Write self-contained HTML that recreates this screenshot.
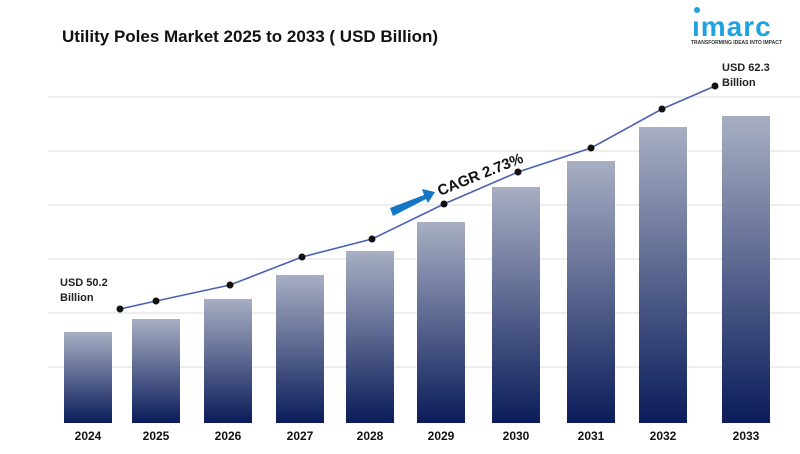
<!DOCTYPE html>
<html><head><meta charset="utf-8"><style>
body{margin:0;width:800px;height:449px;background:#fff;overflow:hidden;font-family:"Liberation Sans",Arial,sans-serif}
</style></head><body>
<svg id="c" width="800" height="449">
<defs><linearGradient id="g" x1="0" y1="0" x2="0" y2="1"><stop offset="0" stop-color="#a8afc3"/><stop offset="1" stop-color="#0a1c5a"/></linearGradient></defs>
<text x="62" y="42" font-size="17" font-weight="bold" fill="#111">Utility Poles Market 2025 to 2033 ( USD Billion)</text>
<g>
<circle cx="697" cy="10" r="3" fill="#1fa3e0"/>
<text x="692" y="36" font-size="28" font-weight="bold" fill="#1fa3e0" letter-spacing="1">ımarc</text>
<text x="691" y="44" font-size="5" font-weight="bold" fill="#333">TRANSFORMING IDEAS INTO IMPACT</text>
</g>
<g id="grid"></g><g id="bars"></g><g id="line"></g>
<text x="60" y="286" font-size="11" font-weight="bold" fill="#222">USD 50.2</text>
<text x="60" y="301" font-size="11" font-weight="bold" fill="#222">Billion</text>
<text x="722" y="71" font-size="11" font-weight="bold" fill="#222">USD 62.3</text>
<text x="722" y="86" font-size="11" font-weight="bold" fill="#222">Billion</text>
<polygon points="390,208 424,195 422,189 435,192 428,203 426,199 393,216" fill="#1476c6"/>
<text x="0" y="0" font-size="15" font-weight="bold" fill="#111" transform="translate(440,196) rotate(-22)">CAGR 2.73%</text>
</svg>
<script>
const years=["2024","2025","2026","2027","2028","2029","2030","2031","2032","2033"];
const barValues=[91,104,124,148,172,201,236,262,296,307];
const lineValues=[114,122,138,166,184,219,251,275,314,337];
const gridTicks=[1,2,3,4,5,6];
const NS="http://www.w3.org/2000/svg";
const barX=[64,132,204,276,346,417,492,567,639,722];
const base=423, bw=48;
const yBar=v=>base-v, yLine=v=>base-v;
const ptX=[120,156,230,302,372,444,518,591,662,715];
function mk(t,a,p){const e=document.createElementNS(NS,t);for(const k in a)e.setAttribute(k,a[k]);p.appendChild(e);return e;}
const grid=document.getElementById('grid');
gridTicks.forEach(i=>{const l=mk('line',{x1:48,x2:800,y1:421-i*54,y2:421-i*54,stroke:'#ddd','stroke-width':1},grid);

});
const bars=document.getElementById('bars');
years.forEach((y,i)=>{const r=mk('rect',{x:barX[i],y:yBar(barValues[i]),width:bw,height:barValues[i],fill:'url(#g)'},bars);


const t=mk('text',{x:barX[i]+bw/2,y:440,'text-anchor':'middle','font-size':12,'font-weight':'bold',fill:'#111'},bars);t.textContent=y;

});
const lg=document.getElementById('line');
const pl=mk('polyline',{points:lineValues.map((v,i)=>ptX[i]+','+yLine(v)).join(' '),fill:'none',stroke:'#4a63b0','stroke-width':1.6},lg);


lineValues.forEach((v,i)=>{const c=mk('circle',{cx:ptX[i],cy:yLine(v),r:3.5,fill:'#111'},lg);

});
</script>
</body></html>
